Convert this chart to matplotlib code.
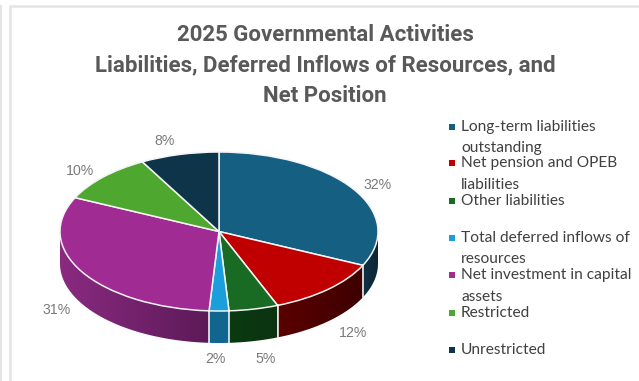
#!/usr/bin/env python3
"""Governmental activities pie chart, drawn as a tilted 3D-style pie."""

import numpy as np
import matplotlib
matplotlib.use("Agg")
import matplotlib.pyplot as plt
from matplotlib.colors import to_rgb

W, H = 639, 381

title_lines = [
    "2025 Governmental Activities",
    "Liabilities, Deferred Inflows of Resources, and",
    "Net Position",
]
categories = [
    "Long-term liabilities\noutstanding",
    "Net pension and OPEB\nliabilities",
    "Other liabilities",
    "Total deferred inflows of\nresources",
    "Net investment in capital\nassets",
    "Restricted",
    "Unrestricted",
]
percents = [32, 12, 5, 2, 31, 10, 8]

top_colors = ["#156082", "#C00000", "#196B24", "#1A9FDC", "#A02B93", "#4EA72E", "#0E344A"]
# wall shading, left end and right end of each slice
wall_left = ["#0E3145", "#5A0000", "#0A3A10", "#11668F", "#8A2A80", "#2C6A1A", "#0E344A"]
wall_right = ["#0B2535", "#3E0000", "#0C3310", "#11668F", "#5C1A58", "#2C6A1A", "#0E344A"]

# pie outline on the canvas, in pixels
PIE_LEFT, PIE_RIGHT = 60, 378
PIE_TOP, PIE_BOTTOM = 152, 311
DEPTH_PX = 32

# (x, y) of each percent label and the baseline of each legend text line, in pixels
label_xy = [(378, 185), (353, 333), (266, 359), (215, 359), (57, 310), (80, 171), (165, 141)]
legend_baselines = [[131, 152], [167, 189], [205], [242, 263], [279, 301], [317], [354]]

PANEL = "#FFFFFF"
EDGE = "#E4E4E4"
TITLE_GRAY = "#595959"
LABEL_GRAY = "#7A7A7A"
LEGEND_GRAY = "#404040"

fig = plt.figure(figsize=(W / 100, H / 100), dpi=100, facecolor="white")

# full-canvas layer in pixel coordinates for the panel and the text
bg = fig.add_axes([0, 0, 1, 1])
bg.set_xlim(0, W)
bg.set_ylim(H, 0)
bg.axis("off")
bg.add_patch(plt.Rectangle((10, 6), W, H, fc=PANEL, ec=EDGE, lw=1.8))
bg.plot([0.5, 0.5], [6, H], color=EDGE, lw=1.4)

for text, y in zip(title_lines, [35, 65, 96]):
    bg.text(325, y, text, ha="center", va="center", fontsize=16,
            family="Roboto", fontweight="bold", color=TITLE_GRAY)

for name, color, rows in zip(categories, top_colors, legend_baselines):
    bg.scatter([452], [rows[0] - 4.5], s=16, marker="s", color=color, lw=0)
    for line, y in zip(name.split("\n"), rows):
        bg.text(461, y, line, ha="left", va="baseline", fontsize=11.2, family="Lato",
                color=LEGEND_GRAY)

for pct, (x, y) in zip(percents, label_xy):
    bg.text(x, y, f"{pct}%", ha="center", va="center", fontsize=10.2,
            family="Liberation Sans", color=LABEL_GRAY)

# pie layer: unit circle squashed by a non-square axes
depth = DEPTH_PX / ((PIE_BOTTOM - PIE_TOP) / 2)
ax = fig.add_axes([PIE_LEFT / W, 1 - (PIE_BOTTOM + DEPTH_PX) / H,
                   (PIE_RIGHT - PIE_LEFT) / W, (PIE_BOTTOM + DEPTH_PX - PIE_TOP) / H])
ax.patch.set_alpha(0)

# side wall: a left-to-right colour ramp clipped to the visible part of each slice rim
edges = np.cumsum([0] + percents) / sum(percents) * 360
for i in range(len(percents)):
    a0, a1 = max(edges[i], 90), min(edges[i + 1], 270)
    if a1 <= a0:
        continue
    t = np.radians(np.linspace(a0, a1, 60))
    xs, ys = np.sin(t), np.cos(t)
    ramp = np.linspace(to_rgb(wall_left[i]), to_rgb(wall_right[i]), 64)[np.newaxis, :, :]
    im = ax.imshow(ramp, extent=(xs.min(), xs.max(), -1 - depth, 1), aspect="auto",
                   interpolation="bilinear")
    outline = plt.Polygon(np.c_[np.r_[xs, xs[::-1]], np.r_[ys, ys[::-1] - depth]],
                          transform=ax.transData)
    im.set_clip_path(outline)

# light seams between wall sections
for a in edges:
    if 90 < a < 270:
        t = np.radians(a)
        ax.plot([np.sin(t)] * 2, [np.cos(t), np.cos(t) - depth], color="white", lw=1.1)

ax.pie(percents, colors=top_colors, startangle=90, counterclock=False, radius=1,
       wedgeprops={"edgecolor": "#F4F4F4", "linewidth": 1.1}, frame=True)
ax.set_aspect("auto")
ax.set_xlim(-1, 1)
ax.set_ylim(-1 - depth, 1)
ax.axis("off")
for art in ax.patches:
    art.set_clip_on(False)

fig.savefig("out.png", dpi=100, facecolor=fig.get_facecolor())
